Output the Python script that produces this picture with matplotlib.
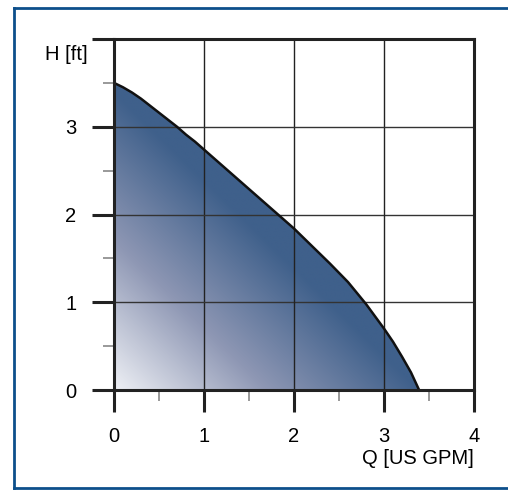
import numpy as np
import matplotlib.pyplot as plt
from matplotlib.colors import LinearSegmentedColormap
from matplotlib.lines import Line2D

plt.rcParams['font.family'] = ['Liberation Sans', 'DejaVu Sans']

# pump curve
q = [0.0, 0.1, 0.2, 0.3, 0.4, 0.5, 0.6, 0.7, 0.8, 0.9, 1.0, 1.2, 1.4, 1.6, 1.8,
     2.0, 2.2, 2.4, 2.6, 2.8, 3.0, 3.1, 3.2, 3.3, 3.39]
h = [3.5, 3.45, 3.39, 3.32, 3.24, 3.16, 3.08, 3.0, 2.91, 2.83, 2.74, 2.56, 2.38, 2.20, 2.02,
     1.84, 1.64, 1.44, 1.23, 0.98, 0.70, 0.55, 0.38, 0.20, 0.0]

xticks = [0, 1, 2, 3, 4]
yticks = [0, 1, 2, 3, 4]
ylabels = ['0', '1', '2', '3', '']

fig = plt.figure(figsize=(5.08, 4.91), dpi=100)
ax = fig.add_axes([114/508, 1-390/491, 360/508, 351/491])
ax.set_xlim(0, 4)
ax.set_ylim(0, 4)

# gradient fill clipped to the area under the curve
cmap = LinearSegmentedColormap.from_list('pump', ['#eef0f5', '#8e97b4', '#3f608b'])
gx, gy = np.meshgrid(np.linspace(0, 4, 400), np.linspace(0, 4, 400))
grad = np.clip((gx + gy) / 3.4, 0, 1)
img = ax.imshow(grad, extent=[0, 4, 0, 4], origin='lower', cmap=cmap, vmin=0, vmax=1,
                aspect='auto', zorder=1)
poly = ax.fill_between(q, h, 0, color='none', zorder=1)
img.set_clip_path(poly.get_paths()[0], transform=ax.transData)
ax.plot(q, h, color='#111111', lw=1.8, zorder=3)

for v in [1, 2, 3]:
    ax.axvline(v, color='#222222', lw=1.0, zorder=2)
    ax.axhline(v, color='#333333', lw=1.0, zorder=2)

for s in ax.spines.values():
    s.set_linewidth(2.2)
    s.set_color('#222222')
    s.set_zorder(4)

ax.set_xticks(xticks)
ax.set_xticklabels([str(v) for v in xticks])
ax.set_yticks(yticks)
ax.set_yticklabels(ylabels)
ax.set_xticks([0.5, 1.5, 2.5, 3.5], minor=True)
ax.set_yticks([0.5, 1.5, 2.5, 3.5], minor=True)
ax.tick_params(which='major', length=16, width=2.2, color='#222222', labelsize=14.5, pad=11)
ax.tick_params(which='minor', length=8, width=1.2, color='#888888')

fig.text(88/508, 1-54/491, 'H [ft]', ha='right', va='center', fontsize=14.5)
fig.text(474/508, 1-458/491, 'Q [US GPM]', ha='right', va='center', fontsize=14.5)

# blue frame
fig.add_artist(Line2D([14/508, 14/508], [1-8/491, 1-488/491], color='#0d4f8b', lw=2))
fig.add_artist(Line2D([14/508, 1.0], [1-8/491, 1-8/491], color='#0d4f8b', lw=2))
fig.add_artist(Line2D([14/508, 1.0], [1-488/491, 1-488/491], color='#0d4f8b', lw=2))

fig.savefig('out.png', dpi=100)
